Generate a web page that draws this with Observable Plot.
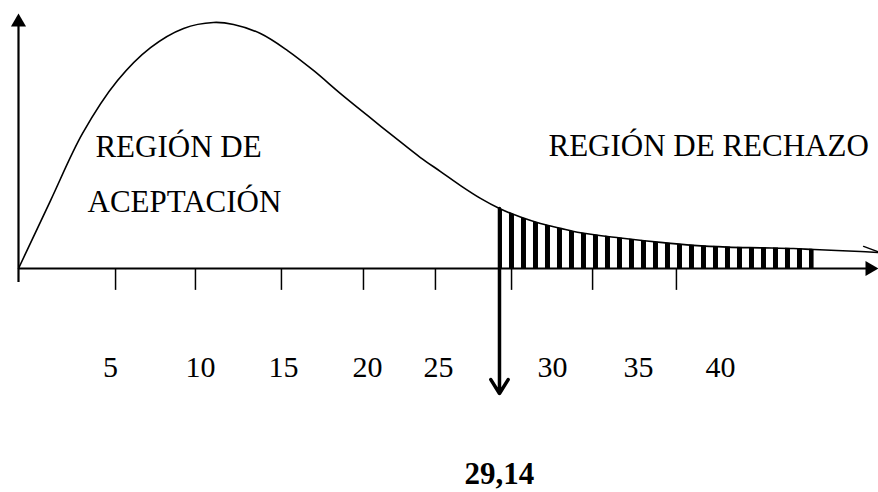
<!DOCTYPE html>
<html>
<head>
<meta charset="utf-8">
<script src="https://cdn.jsdelivr.net/npm/d3@7"></script>
<script src="https://cdn.jsdelivr.net/npm/@observablehq/plot@0.6"></script>
<style>
  html, body { margin: 0; padding: 0; background: #fff; }
</style>
</head>
<body>
<div id="chart"></div>
<script>
// Density curve (x in chi-square units, y in density units)
const curveX = [0, 1.94, 3.88, 6.0, 8.0, 10.0, 11.81, 13.03, 14.66, 16.30, 17.87, 19.51, 21.14, 22.72, 24.35, 25.57, 26.78, 27.99, 29.14, 30.41, 31.62, 32.84, 34.05, 36.47, 38.89, 40.89, 42.95, 44.95, 46.95, 48.2, 51.01, 52.05];
const curveY = [0, 0.0276, 0.0549, 0.0764, 0.0898, 0.0976, 0.1000, 0.0992, 0.0955, 0.0886, 0.0805, 0.0711, 0.0622, 0.0537, 0.0451, 0.0394, 0.0337, 0.0285, 0.0244, 0.0209, 0.0183, 0.0163, 0.0145, 0.0124, 0.0106, 0.0094, 0.0087, 0.0084, 0.0081, 0.0077, 0.0069, 0.0065];

// Critical value
const critical = 29.14;
const criticalLabel = "29,14";
// End of the shaded rejection band
const hatchEnd = 48.2;

// Axis ticks (positions as drawn) and their labels (positions as drawn)
const tickAt = [5.88, 10.72, 15.93, 20.90, 25.26, 29.87, 34.78, 39.86];
const tickLabels = ["5", "10", "15", "20", "25", "30", "35", "40"];
const labelAt = [5.57, 11.03, 16.05, 21.14, 25.45, 32.35, 37.56, 42.53];

// Little flick drawn at the end of the curve
const flickX = [51.2, 52.1];
const flickY = [0.0090, 0.0067];

const curve = curveX.map((x, i) => ({x, y: curveY[i]}));
const tail = curve.filter(d => d.x >= critical && d.x <= hatchEnd);
const ticks = tickAt.map((x, i) => ({x, label: tickLabels[i], lx: labelAt[i]}));
const flick = flickX.map((x, i) => ({x, y: flickY[i]}));

const font = "'Liberation Serif', 'Times New Roman', serif";
const critTop = curveY[curveX.indexOf(critical)];

const svg = Plot.plot({
  width: 878,
  height: 492,
  margin: 0,
  x: {domain: [-1.0905, 52.102], axis: null},
  y: {domain: [-0.09106, 0.10894], axis: null},
  style: {fontFamily: font, background: "white", color: "black"},
  marks: [
    // hatched rejection region
    Plot.areaY(tail, {x: "x", y: "y", fill: "url(#hatch)", curve: "catmull-rom"}),
    // x axis
    Plot.ruleY([0], {x1: 0, x2: 51.6, stroke: "black", strokeWidth: 2.2}),
    // y axis
    Plot.ruleX([0], {y1: -0.0057, y2: 0.0985, stroke: "black", strokeWidth: 2.2}),
    Plot.dot([{x: 0, y: 0.1001}], {x: "x", y: "y", symbol: "triangle", r: 5.6, fill: "black", stroke: "none"}),
    Plot.dot([{x: 51.58, y: 0}], {x: "x", y: "y", symbol: "triangle", r: 5.6, fill: "black", stroke: "none", rotate: 90}),
    // tick marks
    Plot.ruleX(ticks, {x: "x", y1: 0, y2: -0.0089, stroke: "black", strokeWidth: 1.5}),
    // tick labels
    Plot.text(ticks, {x: "lx", y: -0.0400, text: "label", fontSize: 30, fill: "black"}),
    // density curve
    Plot.line(curve, {x: "x", y: "y", curve: "catmull-rom", stroke: "black", strokeWidth: 1.6}),
    Plot.line(flick, {x: "x", y: "y", stroke: "black", strokeWidth: 1.4}),
    // critical value arrow
    Plot.arrow([{x: critical}], {x1: "x", x2: "x", y1: critTop, y2: -0.0508, stroke: "black", strokeWidth: 3.5, headLength: 7, headAngle: 64}),
    Plot.text([criticalLabel], {x: critical, y: -0.0835, text: d => d, fontSize: 31, fontWeight: "bold", fill: "black"}),
    // region labels
    Plot.text(["REGIÓN DE"], {x: 4.66, y: 0.0492, text: d => d, textAnchor: "start", fontSize: 31, fill: "black"}),
    Plot.text(["ACEPTACIÓN"], {x: 4.18, y: 0.0270, text: d => d, textAnchor: "start", fontSize: 31, fill: "black"}),
    Plot.text(["REGIÓN DE RECHAZO"], {x: 32.11, y: 0.0496, text: d => d, textAnchor: "start", fontSize: 31, fill: "black"})
  ]
});

// hatch pattern aligned to the critical value
const px0 = svg.scale("x").apply(critical);
const ns = "http://www.w3.org/2000/svg";
const defs = document.createElementNS(ns, "defs");
const pat = document.createElementNS(ns, "pattern");
pat.setAttribute("id", "hatch");
pat.setAttribute("patternUnits", "userSpaceOnUse");
pat.setAttribute("x", px0 - 2);
pat.setAttribute("y", 0);
pat.setAttribute("width", 12);
pat.setAttribute("height", 10);
const rect = document.createElementNS(ns, "rect");
rect.setAttribute("x", 0);
rect.setAttribute("y", 0);
rect.setAttribute("width", 5);
rect.setAttribute("height", 10);
rect.setAttribute("fill", "black");
pat.appendChild(rect);
defs.appendChild(pat);
svg.insertBefore(defs, svg.firstChild);

document.getElementById("chart").appendChild(svg);
</script>
</body>
</html>
